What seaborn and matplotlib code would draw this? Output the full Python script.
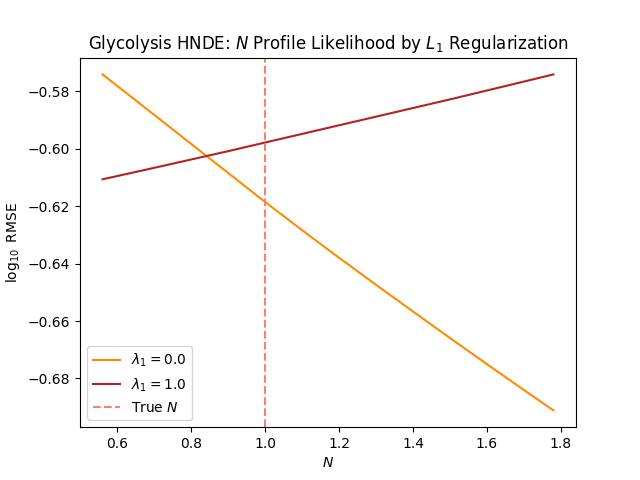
import matplotlib
matplotlib.use("Agg")
import matplotlib.pyplot as plt
import pandas as pd
import seaborn as sns

# values
n_values = [0.56, 0.70, 0.80, 0.90, 1.00, 1.10, 1.20, 1.30, 1.40, 1.50, 1.60, 1.70, 1.78]
rmse_lambda0 = [-0.5742, -0.5883, -0.5984, -0.6085, -0.6186, -0.6284, -0.6380,
                -0.6474, -0.6567, -0.6659, -0.6750, -0.6840, -0.6911]
rmse_lambda1 = [-0.6107, -0.6067, -0.6038, -0.6009, -0.5979, -0.5949, -0.5919,
                -0.5889, -0.5859, -0.5829, -0.5798, -0.5767, -0.5742]
true_n = 1.0

series = {
    r"$\lambda_1 = 0.0$": (rmse_lambda0, "darkorange"),
    r"$\lambda_1 = 1.0$": (rmse_lambda1, "firebrick"),
}

fig, ax = plt.subplots(figsize=(6.4, 4.8), dpi=100)

for label, (vals, color) in series.items():
    df = pd.DataFrame({"N": n_values, "log_rmse": vals})
    sns.lineplot(data=df, x="N", y="log_rmse", ax=ax, color=color, label=label)

ax.axvline(true_n, color="salmon", linestyle="--", label="True $N$")

ax.set_title("Glycolysis HNDE: $N$ Profile Likelihood by $L_1$ Regularization")
ax.set_xlabel("$N$")
ax.set_ylabel(r"$\log_{10}$ RMSE")
ax.legend(loc="lower left")

plt.savefig("out.png", dpi=100)
